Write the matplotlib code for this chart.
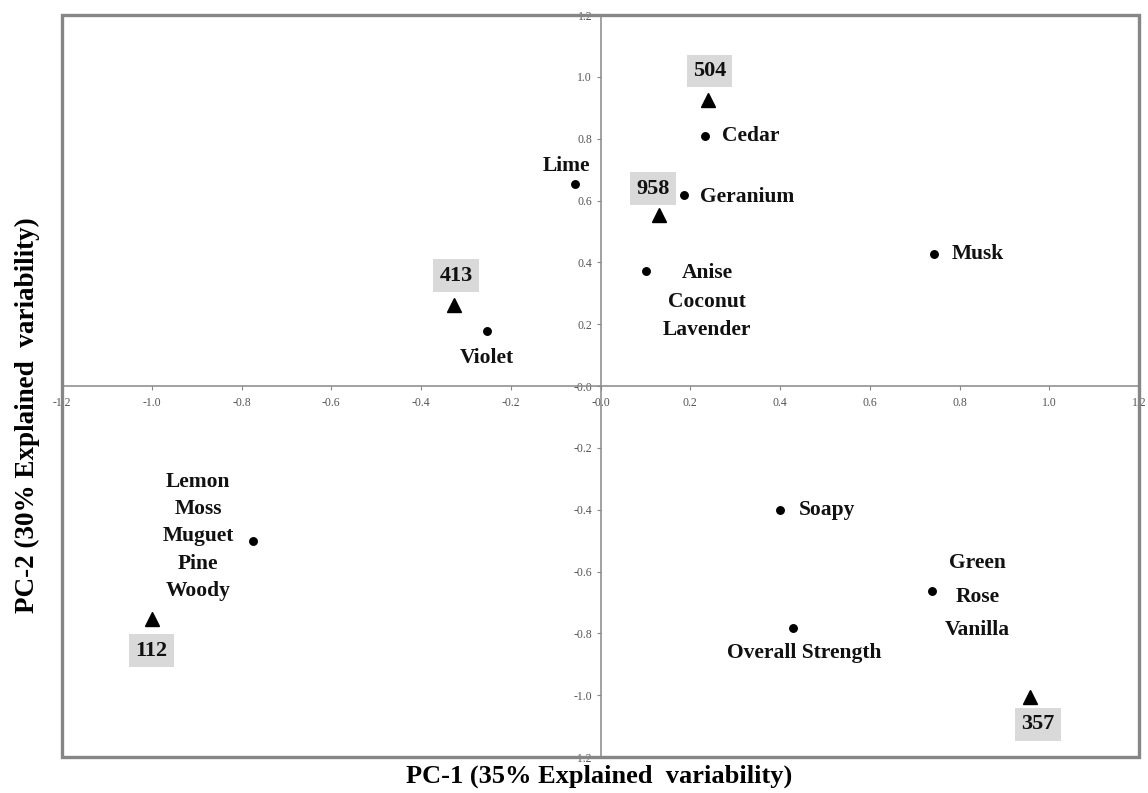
import matplotlib
matplotlib.use("Agg")
import matplotlib.pyplot as plt
from matplotlib.patches import Rectangle
import numpy as np

# Sensory attributes (loadings) on the first two components
attr_names = ["Lime", "Cedar", "Geranium", "Anise\nCoconut\nLavender", "Musk",
              "Violet", "Lemon\nMoss\nMuguet\nPine\nWoody", "Soapy",
              "Overall Strength", "Green\nRose\nVanilla"]
attr_pc1 = [-0.056, 0.232, 0.186, 0.101, 0.743, -0.253, -0.774, 0.400, 0.430, 0.738]
attr_pc2 = [0.653, 0.810, 0.619, 0.371, 0.426, 0.177, -0.500, -0.402, -0.782, -0.663]

# Product scores
sample_names = ["504", "958", "413", "112", "357"]
sample_pc1 = [0.240, 0.131, -0.326, -1.000, 0.958]
sample_pc2 = [0.926, 0.552, 0.263, -0.754, -1.005]

axis_ticks = np.round(np.arange(-1.2, 1.21, 0.2), 1)

# label placement: (dx, dy) in points, horizontal alignment, line spacing
attr_offsets = [(-6.5, 13), (12.6, 0), (11.5, -1.4), (44, -22), (12.6, 0),
                (0, -19), (-39.6, 3), (13.7, 0), (8, -18), (33, -4)]
attr_ha = ["center", "left", "left", "center", "left",
           "center", "center", "left", "center", "center"]
attr_ls = [1.2, 1.2, 1.2, 1.57, 1.2, 1.2, 1.48, 1.2, 1.2, 1.93]
sample_offsets = [(1, 20.7), (-4.3, 19.2), (1.4, 21), (0, -22.7), (5.5, -20)]

plt.rcParams["font.family"] = ["Liberation Serif", "DejaVu Serif"]

fig = plt.figure(figsize=(11.48, 7.93), dpi=100)
ax = fig.add_axes([62 / 1148, 1 - 757 / 793, (1139 - 62) / 1148, (757 - 15) / 793])
ax.set_xlim(-1.2, 1.2)
ax.set_ylim(-1.2, 1.2)

# axes crossing at the origin
for side in ["left", "bottom"]:
    ax.spines[side].set_position(("data", 0))
    ax.spines[side].set_color("#888888")
    ax.spines[side].set_linewidth(1.1)
for side in ["top", "right"]:
    ax.spines[side].set_visible(False)

ax.set_xticks(axis_ticks)
ax.set_yticks(axis_ticks)
ax.set_xticklabels([f"{t:.1f}" for t in axis_ticks])
ax.set_yticklabels([f"{t:.1f}" for t in axis_ticks])
ax.tick_params(direction="out", length=3, width=0.8, color="#888888",
               labelsize=8.5, labelcolor="#555555", pad=3)
ax.tick_params(axis="x", pad=5)

# outer frame
ax.add_patch(Rectangle((0, 0), 1, 1, transform=ax.transAxes, fill=False,
                       ec="#868686", lw=2.4, clip_on=False, zorder=5))

ax.plot(attr_pc1, attr_pc2, "o", color="black", ms=5.4, ls="none", zorder=6)
ax.plot(sample_pc1, sample_pc2, "^", color="black", ms=9.5, ls="none", zorder=6)

for name, x, y, off, ha, ls in zip(attr_names, attr_pc1, attr_pc2,
                                   attr_offsets, attr_ha, attr_ls):
    ax.annotate(name, (x, y), xytext=off, textcoords="offset points",
                ha=ha, va="center", multialignment="center", linespacing=ls,
                fontsize=15.5, fontweight="bold", color="#111111")

for name, x, y, off in zip(sample_names, sample_pc1, sample_pc2, sample_offsets):
    ax.annotate(name, (x, y), xytext=off, textcoords="offset points",
                ha="center", va="center", fontsize=16, fontweight="bold",
                color="#111111",
                bbox=dict(boxstyle="square,pad=0.28", fc="#d9d9d9", ec="none"))

ax.text(0.4986, -0.026, "PC-1 (35% Explained  variability)", transform=ax.transAxes,
        ha="center", va="center", fontsize=19, fontweight="bold")
ax.text(-0.0325, 0.461, "PC-2 (30% Explained  variability)", transform=ax.transAxes,
        ha="center", va="center", rotation=90, fontsize=19.5, fontweight="bold")

fig.savefig("out.png", dpi=100)
